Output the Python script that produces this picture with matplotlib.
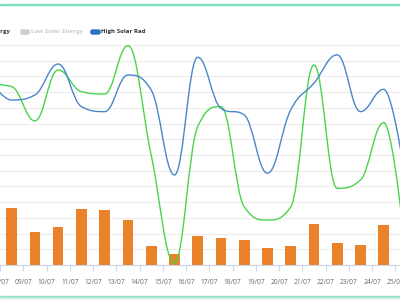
import matplotlib
matplotlib.use('Agg')
from matplotlib import pyplot as plt
from matplotlib.path import Path
from matplotlib.patches import PathPatch, FancyBboxPatch, Rectangle

plt.rcParams['font.family'] = ['Open Sans', 'DejaVu Sans']

# days shown on the axis (day of July)
days = list(range(8, 26))
day_labels = ['%02d/07' % d for d in days]

# daily solar energy bars, 08/07 .. 24/07
bar_days = list(range(8, 25))
solar_energy = [364, 211, 245, 358, 351, 288, 122, 67, 186,
                171, 160, 109, 118, 260, 137, 130, 253]

# radiation lines, 07/07 .. 25/07
line_days = list(range(7, 26))
high_rad = [1190, 1050, 1082, 1279, 1008, 976, 1209, 1114, 573, 1322,
            997, 955, 584, 987, 1157, 1337, 976, 1118, 480]
low_rad = [1152, 1135, 917, 1241, 1103, 1088, 1396, 700, 13, 880,
           1008, 371, 286, 369, 1273, 488, 541, 906, 0]


def spline_path(xs, ys, smoothing=1.5):
    # highcharts style spline: bezier control points, no false extremes
    n = len(xs)
    denom = smoothing + 1
    left = [None] * n
    right = [None] * n
    for i in range(1, n - 1):
        lx, ly = xs[i - 1], ys[i - 1]
        nx, ny = xs[i + 1], ys[i + 1]
        px, py = xs[i], ys[i]
        lcx = (smoothing * px + lx) / denom
        lcy = (smoothing * py + ly) / denom
        rcx = (smoothing * px + nx) / denom
        rcy = (smoothing * py + ny) / denom
        corr = (rcy - lcy) * (rcx - px) / (rcx - lcx) + py - rcy
        lcy += corr
        rcy += corr
        if lcy > ly and lcy > py:
            lcy = max(ly, py)
            rcy = 2 * py - lcy
        elif lcy < ly and lcy < py:
            lcy = min(ly, py)
            rcy = 2 * py - lcy
        if rcy > ny and rcy > py:
            rcy = max(ny, py)
            lcy = 2 * py - rcy
        elif rcy < ny and rcy < py:
            rcy = min(ny, py)
            lcy = 2 * py - rcy
        left[i] = (lcx, lcy)
        right[i] = (rcx, rcy)
    verts = [(xs[0], ys[0])]
    codes = [Path.MOVETO]
    for i in range(1, n):
        c1 = right[i - 1] or (xs[i - 1], ys[i - 1])
        c2 = left[i] or (xs[i], ys[i])
        verts += [c1, c2, (xs[i], ys[i])]
        codes += [Path.CURVE4] * 3
    return Path(verts, codes)


fig = plt.figure(figsize=(4, 3), dpi=100)
ax = fig.add_axes([0, 35 / 300, 1, 220 / 300])

ax.bar([d + 0.5 for d in bar_days], solar_energy, width=0.46,
       color='#ea8229', zorder=2)

xs = [d + 0.5 for d in line_days]
ax.add_patch(PathPatch(spline_path(xs, low_rad), fill=False,
                       edgecolor='#4bd34b', lw=1.0, zorder=3))
ax.add_patch(PathPatch(spline_path(xs, high_rad), fill=False,
                       edgecolor='#4a86c8', lw=1.0, zorder=4))

ax.set_xlim(8.0, 25.2)
ax.set_ylim(0, 1400)
ax.set_xticks(days)
ax.set_xticklabels(day_labels)
ax.set_yticks(range(0, 1500, 100))
ax.tick_params(axis='x', length=4, width=0.8, color='#ccd6eb',
               labelsize=4.8, labelcolor='#666666', pad=6)
ax.tick_params(axis='y', length=0, labelleft=False)
ax.grid(axis='y', color='#ececec', lw=0.8, zorder=0)
ax.set_axisbelow(True)
for s in ['top', 'left', 'right']:
    ax.spines[s].set_visible(False)
ax.spines['bottom'].set_color('#ccd6eb')
ax.spines['bottom'].set_linewidth(0.8)

# legend row (partly cut off on the left like the screenshot)
ly = (300 - 32) / 300
fig.text(10 / 400, ly, 'High Solar Energy', ha='right', va='center',
         fontsize=4.4, fontweight='bold', color='#333333')
fig.patches.append(FancyBboxPatch((21 / 400, (300 - 34) / 300), 8 / 400, 4 / 300,
                                  boxstyle='round,pad=0,rounding_size=0.004',
                                  transform=fig.transFigure, color='#cccccc'))
fig.text(31 / 400, ly, 'Low Solar Energy', ha='left', va='center',
         fontsize=4.4, fontweight='bold', color='#cccccc')
fig.patches.append(FancyBboxPatch((91 / 400, (300 - 34) / 300), 9 / 400, 4 / 300,
                                  boxstyle='round,pad=0,rounding_size=0.004',
                                  transform=fig.transFigure, color='#2f6fc4'))
fig.text(101 / 400, ly, 'High Solar Rad', ha='left', va='center',
         fontsize=4.4, fontweight='bold', color='#333333')

# panel borders
fig.patches.append(Rectangle((0, (300 - 5) / 300), 1, 1.2 / 300,
                             transform=fig.transFigure, color='#7fdcc2'))
fig.patches.append(Rectangle((0, 0), 1, 4 / 300,
                             transform=fig.transFigure, color='#eaf8f3'))
fig.patches.append(Rectangle((0, 3.5 / 300), 1, 1 / 300,
                             transform=fig.transFigure, color='#9fe3cf'))

fig.savefig('out.png', dpi=100)
